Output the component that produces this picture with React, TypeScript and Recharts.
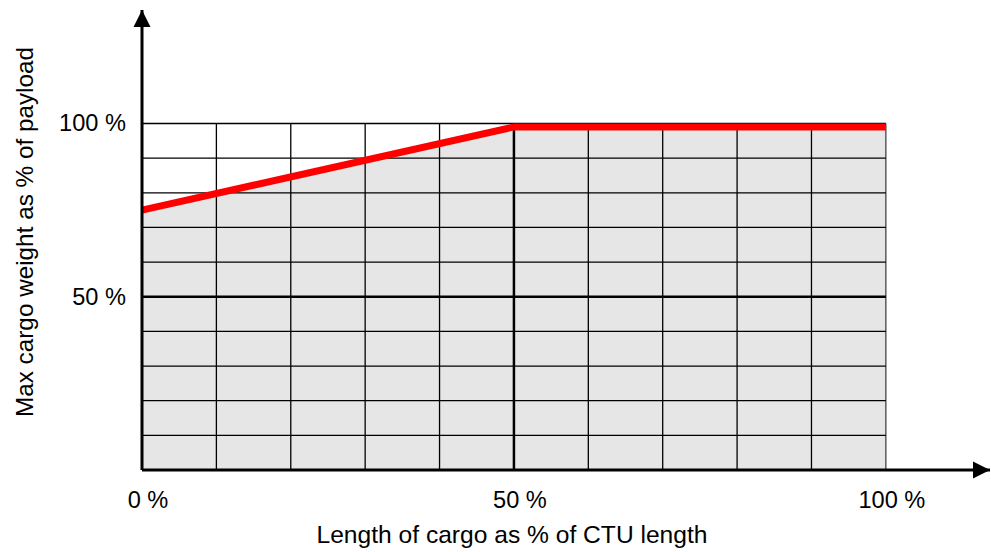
import React from 'react';
import { ComposedChart, Area, Line, XAxis, YAxis, ReferenceLine, ReferenceDot } from 'recharts';

const cargoLength = [0, 50, 100];
const maxWeight = [75, 99, 99];
const xTicks = [0, 50, 100];
const yTicks = [50, 100];
const gridSteps = [10, 20, 30, 40, 50, 60, 70, 80, 90, 100];
const xTitle = 'Length of cargo as % of CTU length';
const yTitle = 'Max cargo weight as % of payload';

const data = cargoLength.map((x, i) => ({ x, y: maxWeight[i] }));

const FONT = '"Liberation Sans", Arial, sans-serif';

const XTick = (props: any) => {
  const { x, y, payload } = props;
  return (
    <text x={x + 6} y={y + 30} textAnchor="middle" fontSize={23.6} fontFamily={FONT} fill="#000">
      {`${payload.value} %`}
    </text>
  );
};

const YTick = (props: any) => {
  const { y, payload } = props;
  return (
    <text x={126} y={y + 8} textAnchor="end" fontSize={23.6} fontFamily={FONT} fill="#000">
      {`${payload.value} %`}
    </text>
  );
};

const UpArrow = (props: any) => {
  const { cx, cy } = props;
  return <path d={`M${cx},${cy} L${cx - 8.5},${cy + 17} L${cx + 8.5},${cy + 17} Z`} fill="#000" />;
};

const RightArrow = (props: any) => {
  const { cx, cy } = props;
  return <path d={`M${cx},${cy} L${cx - 17},${cy - 8.5} L${cx - 17},${cy + 8.5} Z`} fill="#000" />;
};

export default function App() {
  return (
    <div style={{ position: 'absolute', left: 0, top: 0, width: 991, height: 552, background: '#fff' }}>
      <ComposedChart width={991} height={552} data={data} margin={{ top: 10, right: 1, bottom: 0, left: 0 }}>
        <XAxis
          dataKey="x"
          type="number"
          domain={[0, 114]}
          ticks={xTicks}
          height={82}
          tickLine={false}
          axisLine={{ stroke: '#000', strokeWidth: 3 }}
          tick={<XTick />}
          label={{
            content: () => (
              <text x={512} y={543} textAnchor="middle" fontSize={24.6} fontFamily={FONT} fill="#000">
                {xTitle}
              </text>
            ),
          }}
        />
        <YAxis
          type="number"
          domain={[0, 132.75]}
          ticks={yTicks}
          width={142}
          tickLine={false}
          axisLine={{ stroke: '#000', strokeWidth: 3 }}
          tick={<YTick />}
          label={{
            content: () => (
              <text
                x={33}
                y={232}
                transform="rotate(-90 33 232)"
                textAnchor="middle"
                fontSize={24.3}
                fontFamily={FONT}
                fill="#000"
              >
                {yTitle}
              </text>
            ),
          }}
        />
        <Area
          type="linear"
          dataKey="y"
          stroke="none"
          fill="#e6e6e6"
          fillOpacity={1}
          isAnimationActive={false}
        />
        {gridSteps.map((v) => (
          <ReferenceLine
            key={`v${v}`}
            segment={[{ x: v, y: 0 }, { x: v, y: 100 }]}
            stroke={v === 100 ? '#444' : '#000'}
            strokeWidth={v === 50 ? 2.5 : 1.3}
            ifOverflow="visible"
          />
        ))}
        {gridSteps.map((v) => (
          <ReferenceLine
            key={`h${v}`}
            segment={[{ x: 0, y: v }, { x: 100, y: v }]}
            stroke="#000"
            strokeWidth={v === 50 ? 2.5 : 1.3}
            ifOverflow="visible"
          />
        ))}
        <Line
          type="linear"
          dataKey="y"
          stroke="#ff0000"
          strokeWidth={7}
          dot={false}
          activeDot={false}
          isAnimationActive={false}
          zIndex={450}
        />
        <ReferenceDot x={0} y={132.75} r={0} shape={<UpArrow />} ifOverflow="visible" />
        <ReferenceDot x={114} y={0} r={0} shape={<RightArrow />} ifOverflow="visible" />
      </ComposedChart>
    </div>
  );
}
